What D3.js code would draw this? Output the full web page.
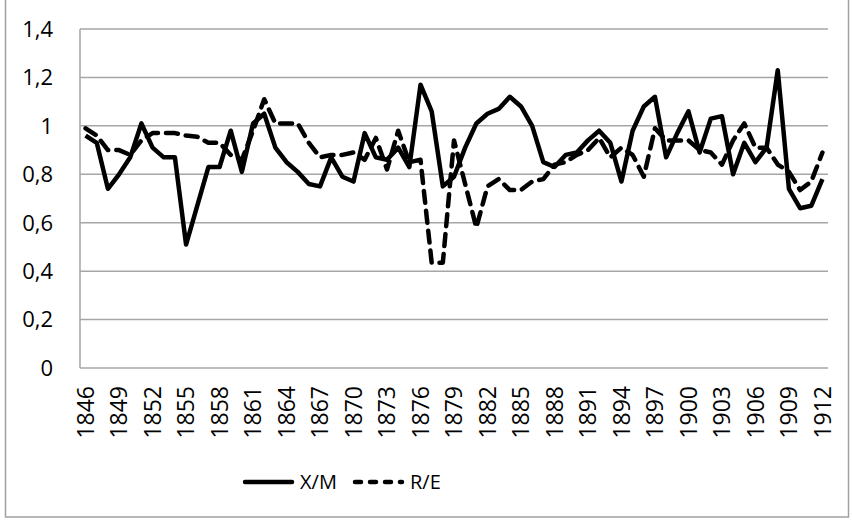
<!DOCTYPE html>
<html>
<head>
<meta charset="utf-8">
<script src="https://cdn.jsdelivr.net/npm/d3@7"></script>
<style>
  body { margin: 0; background: #fff; }
  svg { display: block; font-family: "Open Sans", sans-serif; }
</style>
</head>
<body>
<svg id="chart" width="853" height="523"></svg>
<script>
// years 1846..1912
const years = [];
for (let y = 1846; y <= 1912; y++) years.push(y);

const xm = [0.96, 0.93, 0.74, 0.80, 0.87, 1.01, 0.91, 0.87, 0.87, 0.51,
            0.67, 0.83, 0.83, 0.98, 0.81, 1.01, 1.05, 0.91, 0.85, 0.81,
            0.76, 0.75, 0.87, 0.79, 0.77, 0.97, 0.87, 0.86, 0.91, 0.83,
            1.17, 1.06, 0.75, 0.79, 0.91, 1.01, 1.05, 1.07, 1.12, 1.08,
            1.00, 0.85, 0.83, 0.88, 0.89, 0.94, 0.98, 0.93, 0.77, 0.98,
            1.08, 1.12, 0.87, 0.97, 1.06, 0.89, 1.03, 1.04, 0.80, 0.93,
            0.85, 0.91, 1.23, 0.74, 0.66, 0.67, 0.78];

const re = [0.99, 0.96, 0.90, 0.90, 0.88, 0.94, 0.97, 0.97, 0.97, 0.96,
            0.955, 0.93, 0.93, 0.88, 0.86, 0.98, 1.11, 1.01, 1.01, 1.01,
            0.93, 0.87, 0.88, 0.88, 0.89, 0.86, 0.95, 0.82, 0.98, 0.85,
            0.86, 0.435, 0.435, 0.94, 0.76, 0.58, 0.75, 0.78, 0.735, 0.735,
            0.77, 0.78, 0.84, 0.85, 0.88, 0.90, 0.95, 0.87, 0.91, 0.88,
            0.79, 0.99, 0.94, 0.94, 0.94, 0.90, 0.89, 0.84, 0.94, 1.01,
            0.91, 0.91, 0.84, 0.81, 0.735, 0.77, 0.89];

const yTicks = [0, 0.2, 0.4, 0.6, 0.8, 1, 1.2, 1.4];
const xLabels = years.filter((d, i) => i % 3 === 0);

const seriesNames = ['X/M', 'R/E'];

const svg = d3.select('#chart');
const plotL = 80, plotR = 828, plotT = 29, plotB = 368;
const dash = '12,8';

const x = d3.scalePoint().domain(years).range([plotL, plotR]).padding(0.5);
const y = d3.scaleLinear().domain([0, 1.4]).range([plotB, plotT]);

// outer frame
svg.append('rect')
  .attr('x', 5.5).attr('y', -5)
  .attr('width', 843).attr('height', 522)
  .attr('fill', 'none').attr('stroke', '#a0a0a0').attr('stroke-width', 1.5);

// gridlines
svg.append('g')
  .selectAll('line')
  .data(yTicks)
  .enter()
  .append('line')
  .attr('x1', plotL).attr('x2', plotR)
  .attr('y1', d => y(d)).attr('y2', d => y(d))
  .attr('stroke', '#a6a6a6').attr('stroke-width', 1.5);

// left axis
svg.append('line')
  .attr('x1', plotL).attr('x2', plotL)
  .attr('y1', plotT).attr('y2', plotB)
  .attr('stroke', '#a6a6a6').attr('stroke-width', 1.5);

// y labels
svg.append('g')
  .selectAll('text')
  .data(yTicks)
  .enter()
  .append('text')
  .attr('x', 53)
  .attr('y', d => y(d))
  .attr('dy', '0.36em')
  .attr('text-anchor', 'end')
  .attr('font-size', 22)
  .attr('fill', '#000')
  .text(d => String(d).replace('.', ','));

// x labels
svg.append('g')
  .selectAll('text')
  .data(xLabels)
  .enter()
  .append('text')
  .attr('transform', d => `translate(${x(d)},386) rotate(-90)`)
  .attr('dy', '0.36em')
  .attr('text-anchor', 'end')
  .attr('font-size', 23)
  .attr('fill', '#000')
  .text(d => d);

const line = d3.line()
  .x((d, i) => x(years[i]))
  .y(d => y(d));

svg.append('path')
  .datum(xm)
  .attr('d', line)
  .attr('fill', 'none')
  .attr('stroke', '#000')
  .attr('stroke-width', 4.5)
  .attr('stroke-linejoin', 'round');

svg.append('path')
  .datum(re)
  .attr('d', line)
  .attr('fill', 'none')
  .attr('stroke', '#000')
  .attr('stroke-width', 4.5)
  .attr('stroke-linecap', 'round')
  .attr('stroke-linejoin', 'round')
  .attr('stroke-dasharray', dash);

// legend
const legend = svg.append('g');
const legendItems = [
  { name: seriesNames[0], x0: 245, dashed: false },
  { name: seriesNames[1], x0: 355, dashed: true }
];
legendItems.forEach(it => {
  legend.append('line')
    .attr('x1', it.x0).attr('x2', it.x0 + 47)
    .attr('y1', 482).attr('y2', 482)
    .attr('stroke', '#000')
    .attr('stroke-width', 4.5)
    .attr('stroke-linecap', 'round')
    .attr('stroke-dasharray', it.dashed ? '6,9' : null);
  legend.append('text')
    .attr('x', it.x0 + 55)
    .attr('y', 482)
    .attr('dy', '0.36em')
    .attr('font-size', 20)
    .attr('fill', '#000')
    .text(it.name);
});
</script>
</body>
</html>
